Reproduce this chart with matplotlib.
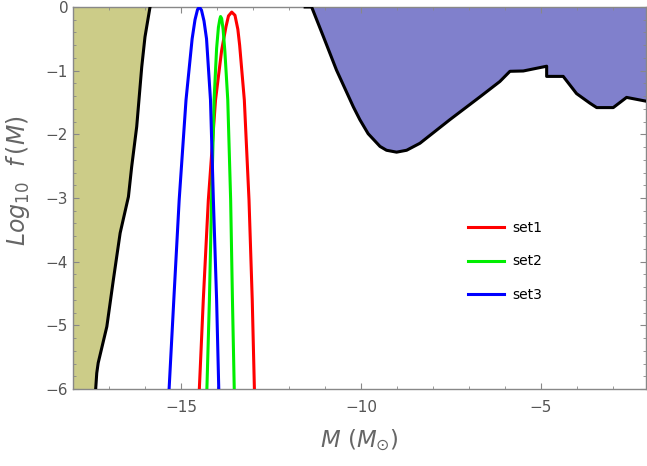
import numpy as np
import matplotlib
matplotlib.use("Agg")
import matplotlib.pyplot as plt
from matplotlib.ticker import MultipleLocator

# excluded region on the left (boundary)
left_x = [-17.37, -17.34, -17.30, -17.06, -16.88, -16.69, -16.46, -16.37, -16.23, -16.09, -16.00, -15.86]
left_y = [-6.00, -5.75, -5.59, -5.02, -4.29, -3.55, -2.98, -2.51, -1.88, -0.94, -0.47, 0.00]

# excluded region on the right
right_x = [-11.55, -11.37, -11.04, -10.68, -10.21, -10.03, -9.80, -9.47, -9.29, -9.01,
           -8.73, -8.36, -7.53, -6.69, -6.14, -5.86, -5.49, -4.84, -4.84, -4.38,
           -4.01, -3.64, -3.45, -2.99, -2.62, -2.07]
right_y = [0.00, 0.00, -0.47, -0.99, -1.57, -1.77, -1.99, -2.19, -2.25, -2.28,
           -2.25, -2.14, -1.77, -1.41, -1.17, -1.01, -1.005, -0.93, -1.09, -1.09,
           -1.36, -1.51, -1.58, -1.58, -1.42, -1.48]

# mass functions
set1_x = [-14.49, -14.38, -14.24, -14.21, -14.04, -13.87, -13.75, -13.68, -13.59,
          -13.50, -13.42, -13.37, -13.24, -13.11, -13.02, -12.96]
set1_y = [-6.00, -4.60, -3.03, -2.80, -1.46, -0.68, -0.31, -0.14, -0.08,
          -0.13, -0.35, -0.60, -1.46, -3.03, -4.60, -6.00]
set2_x = [-14.28, -14.21, -14.15, -14.08, -14.01, -13.96, -13.92, -13.90, -13.87,
          -13.83, -13.78, -13.70, -13.62, -13.57, -13.52]
set2_y = [-6.00, -4.60, -3.03, -1.46, -0.65, -0.32, -0.19, -0.15, -0.18,
          -0.35, -0.70, -1.46, -3.03, -4.60, -6.00]
set3_x = [-15.33, -15.19, -15.05, -14.86, -14.69, -14.61, -14.54, -14.49, -14.43,
          -14.36, -14.29, -14.18, -14.10, -14.01, -13.95]
set3_y = [-6.00, -4.50, -3.03, -1.46, -0.50, -0.20, -0.04, 0.00, -0.05,
          -0.22, -0.50, -1.46, -3.03, -4.60, -6.00]

xmin, xmax = -18, -2.08
ymin, ymax = -6, 0

fig = plt.figure(figsize=(6.47, 4.66), dpi=100)
ax = fig.add_axes([73 / 647, 77 / 466, 573 / 647, 382 / 466])

ax.fill_betweenx(left_y, xmin, left_x, color="#cccc88", lw=0)
ax.plot(left_x, left_y, color="black", lw=2.2, zorder=3)

ax.fill_between(right_x, right_y, ymax, color="#8080cc", lw=0)
ax.plot(right_x, right_y, color="black", lw=2.2, zorder=3)

ax.plot(set1_x, set1_y, color="#ff0000", lw=2.2, label="set1", zorder=4)
ax.plot(set2_x, set2_y, color="#00ee00", lw=2.2, label="set2", zorder=4)
ax.plot(set3_x, set3_y, color="#0000ff", lw=2.2, label="set3", zorder=4)

ax.set_xlim(xmin, xmax)
ax.set_ylim(ymin, ymax)

gray = "#888888"
for s in ax.spines.values():
    s.set_color(gray)
    s.set_linewidth(1.0)
ax.xaxis.set_major_locator(MultipleLocator(5))
ax.xaxis.set_minor_locator(MultipleLocator(1))
ax.yaxis.set_major_locator(MultipleLocator(1))
ax.yaxis.set_minor_locator(MultipleLocator(0.2))
ax.tick_params(which="both", direction="in", top=True, right=True, color=gray,
               labelcolor="#555555", labelsize=11)
ax.tick_params(which="major", length=4, width=0.8)
ax.tick_params(which="minor", length=2.5, width=0.6)
ax.tick_params(axis="x", pad=8)

ax.set_xlabel(r"$M\ (M_{\odot})$", fontsize=16.5, color="#666666", labelpad=9)
ax.set_ylabel(r"$Log_{10}\ \ f\,(M)$", fontsize=17, color="#666666")
ax.yaxis.set_label_coords(-0.072, 0.545)

ax.legend(loc="upper left", bbox_to_anchor=(0.689, 0.44), frameon=False,
          borderpad=0, borderaxespad=0, handlelength=2.6, handletextpad=0.6,
          labelspacing=1.4, fontsize=10)

fig.savefig("out.png", dpi=100)
